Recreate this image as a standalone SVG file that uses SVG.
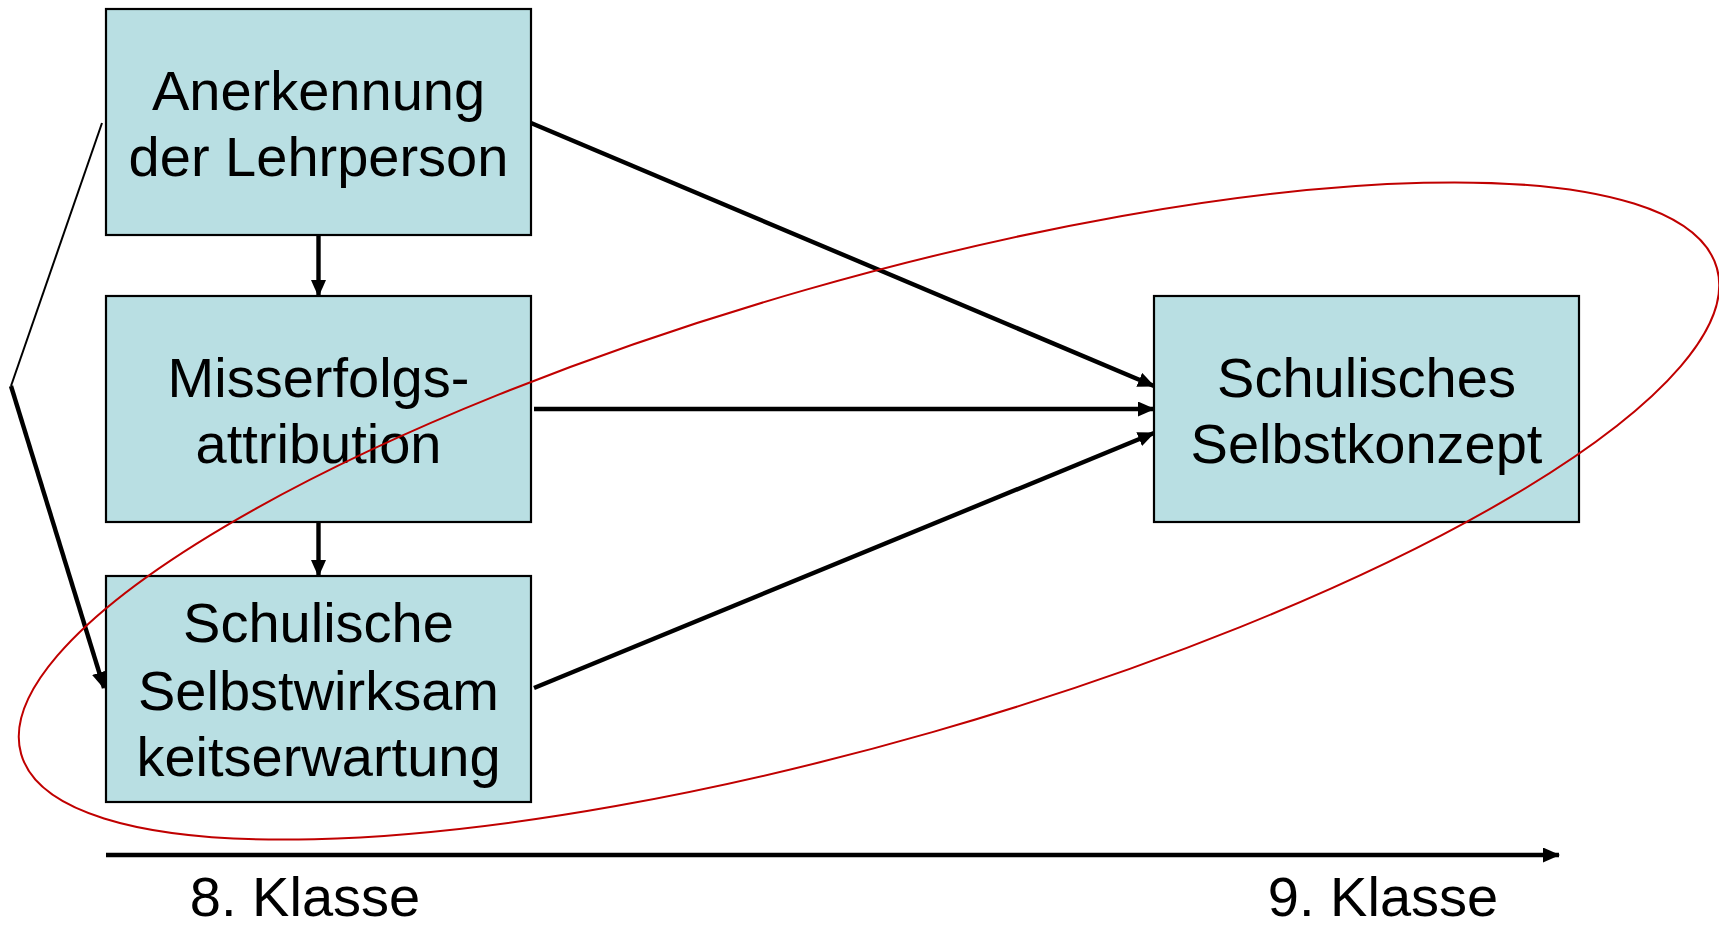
<svg xmlns="http://www.w3.org/2000/svg" width="1719" height="925" viewBox="0 0 1719 925">
<style>
.box{fill:#B9DFE3;stroke:#000;stroke-width:2.2}
.t{font-family:"Liberation Sans",Arial,sans-serif;font-size:56px;fill:#000;text-anchor:middle}
.c{stroke:#000;stroke-width:4.4;fill:none}
</style>
<defs>
<marker id="ah" markerUnits="userSpaceOnUse" markerWidth="18" markerHeight="15" refX="16" refY="7.5" orient="auto">
<path d="M0,0 L17,7.5 L0,15 Z" fill="#000"/>
</marker>
</defs>
<rect width="1719" height="925" fill="#fff"/>
<g id="n1"><rect class="box" x="106" y="9" width="425" height="226"/>
<text class="t" x="318.5" y="110">Anerkennung</text><text class="t" x="318.5" y="176">der Lehrperson</text></g>
<g id="n2"><rect class="box" x="106" y="296" width="425" height="226"/>
<text class="t" x="318.5" y="397">Misserfolgs-</text><text class="t" x="318.5" y="463">attribution</text></g>
<g id="n3"><rect class="box" x="106" y="576" width="425" height="226"/>
<text class="t" x="318.5" y="642">Schulische</text><text class="t" x="318.5" y="710">Selbstwirksam</text><text class="t" x="318.5" y="776">keitserwartung</text></g>
<g id="n4"><rect class="box" x="1154" y="296" width="425" height="226"/>
<text class="t" x="1366.5" y="397">Schulisches</text><text class="t" x="1366.5" y="463">Selbstkonzept</text></g>
<g id="connectors">
<line class="c" x1="318.5" y1="235" x2="318.5" y2="296" marker-end="url(#ah)"/>
<line class="c" x1="318.5" y1="522" x2="318.5" y2="576" marker-end="url(#ah)"/>
<line class="c" x1="531" y1="123" x2="1154" y2="386" marker-end="url(#ah)"/>
<line class="c" x1="534" y1="409" x2="1154" y2="409" marker-end="url(#ah)"/>
<line class="c" x1="534" y1="688" x2="1154" y2="433" marker-end="url(#ah)"/>
<line x1="102" y1="123" x2="11" y2="386" stroke="#000" stroke-width="2"/>
<line class="c" x1="11" y1="386" x2="104" y2="688" marker-end="url(#ah)"/>
<line class="c" x1="106" y1="855" x2="1559" y2="855" marker-end="url(#ah)"/>
</g>
<g id="ellipse"><ellipse cx="869" cy="511" rx="882" ry="230" transform="rotate(-16 869 511)" fill="none" stroke="#C00000" stroke-width="2"/></g>
<g id="labels">
<text class="t" x="305" y="916">8. Klasse</text>
<text class="t" x="1383" y="916">9. Klasse</text>
</g>
</svg>
